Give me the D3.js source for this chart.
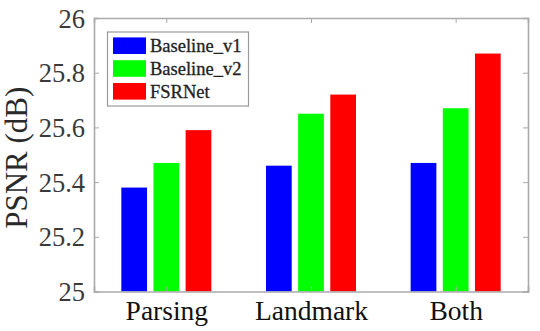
<!DOCTYPE html>
<html><head><meta charset="utf-8">
<script src="https://cdn.jsdelivr.net/npm/d3@7"></script>
<style>body{margin:0;background:#fff}svg{display:block}</style>
</head><body>
<svg id="c" width="540" height="331"></svg>
<script>
const categories = ["Parsing", "Landmark", "Both"];
const seriesNames = ["Baseline_v1", "Baseline_v2", "FSRNet"];
const baselineV1 = [25.38, 25.46, 25.47];
const baselineV2 = [25.47, 25.65, 25.67];
const fsrnet = [25.59, 25.72, 25.87];
const yTicks = [25, 25.2, 25.4, 25.6, 25.8, 26];
const colors = ["#0000ff", "#00ff00", "#ff0000"];

const series = [baselineV1, baselineV2, fsrnet];
const svg = d3.select("#c");
const L = 94, R = 528, T = 18, B = 291.5;
const font = "'Liberation Serif','Times New Roman',serif";

const x = d3.scaleLinear().domain([0.5, 3.5]).range([L, R]);
const y = d3.scaleLinear().domain([25, 26]).range([B, T]);
const groupW = Math.min(0.8, 3 / (3 + 1.5));
const slot = groupW / 3;

// bars
series.forEach((vals, si) => {
  svg.append("g").selectAll("rect").data(vals).join("rect")
    .attr("x", (d, i) => x(i + 1 - groupW / 2 + slot * si + slot * 0.1))
    .attr("width", x(slot * 0.8) - x(0))
    .attr("y", d => y(d))
    .attr("height", d => y(25) - y(d))
    .attr("fill", colors[si]);
});

// axes
const axCol = "#aaa";
const tickFmt = d => String(+d.toFixed(1));
const yL = svg.append("g").attr("transform", `translate(${L},0)`)
  .call(d3.axisLeft(y).tickValues(yTicks).tickSize(-5).tickPadding(9).tickFormat(tickFmt));
const yR = svg.append("g").attr("transform", `translate(${R},0)`)
  .call(d3.axisRight(y).tickValues(yTicks).tickSize(-5).tickFormat(""));
const xB = svg.append("g").attr("transform", `translate(0,${B})`)
  .call(d3.axisBottom(x).tickValues([1, 2, 3]).tickSize(-5).tickPadding(0).tickFormat(d => categories[d - 1]));
const xT = svg.append("g").attr("transform", `translate(0,${T})`)
  .call(d3.axisTop(x).tickValues([1, 2, 3]).tickSize(-5).tickFormat(""));
[yL, yR, xB, xT].forEach(g => {
  g.selectAll(".domain").attr("stroke", axCol).attr("stroke-width", 1.6);
  g.selectAll(".tick line").attr("stroke", axCol);
});
yL.selectAll(".tick text").attr("fill", "#3a3a3a").attr("dy", "0.34em")
  .style("font-family", font).style("font-size", "26.5px");
xB.selectAll(".tick text").attr("fill", "#111").attr("y", 28).attr("dy", 0)
  .style("font-family", font).style("font-size", "27.5px");

// y label
svg.append("text")
  .attr("transform", `translate(27,${(T + B) / 2 + 3}) rotate(-90)`)
  .attr("text-anchor", "middle")
  .style("font-family", font).style("font-size", "31px").attr("fill", "#2a2a2a")
  .text("PSNR (dB)");

// legend
const lg = svg.append("g");
lg.append("rect").attr("x", 107.5).attr("y", 32).attr("width", 141).attr("height", 74)
  .attr("fill", "#fff").attr("stroke", "#999").attr("stroke-width", 1.2);
seriesNames.forEach((n, i) => {
  const cy = 45.7 + i * 22.8;
  lg.append("rect").attr("x", 113).attr("y", cy - 8.3).attr("width", 33).attr("height", 16.6).attr("fill", colors[i]);
  lg.append("text").attr("x", 150).attr("y", cy).attr("dy", "0.35em")
    .style("font-family", font).style("font-size", "18.5px").attr("fill", "#222")
    .attr("stroke", "#222").attr("stroke-width", 0.3).text(n);
});
</script>
</body></html>
